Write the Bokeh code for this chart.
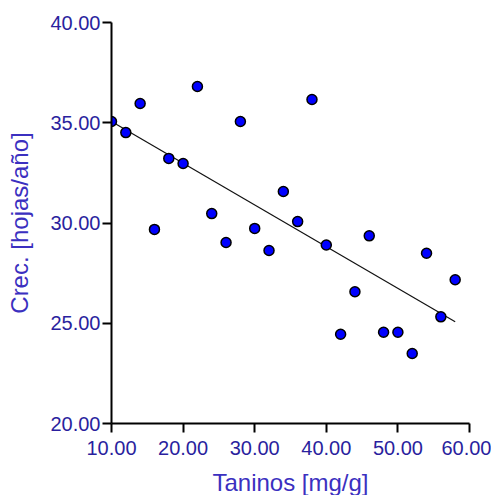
import numpy as np
from bokeh.plotting import figure
from bokeh.models import Range1d, FixedTicker, PrintfTickFormatter
from bokeh.embed import file_html
from bokeh.resources import INLINE

# Data
taninos = [10, 12, 14, 16, 18, 20, 22, 24, 26, 28, 30, 32, 34, 36, 38, 40,
           42, 44, 46, 48, 50, 52, 54, 56, 58]
crec = [35.06, 34.51, 35.96, 29.68, 33.22, 32.97, 36.81, 30.47, 29.03, 35.06,
        29.73, 28.63, 31.57, 30.07, 36.16, 28.90, 24.45, 26.57, 29.36, 24.55,
        24.55, 23.49, 28.49, 25.32, 27.17]
x_ticks = [10, 20, 30, 40, 50, 60]
y_ticks = [20, 25, 30, 35, 40]
x_title = "Taninos [mg/g]"
y_title = "Crec. [hojas/año]"

TICK_COLOR = "#2a1f9e"
TITLE_COLOR = "#3b30c0"
FONT = "Liberation Sans"

p = figure(frame_width=358, frame_height=401, output_backend="svg",
           toolbar_location=None,
           x_range=Range1d(10, 60), y_range=Range1d(20, 40),
           min_border_left=111, min_border_right=22,
           min_border_top=22, min_border_bottom=60)
p.outline_line_color = None
p.xgrid.grid_line_color = None
p.ygrid.grid_line_color = None
p.background_fill_color = "white"
p.border_fill_color = "white"

# regression line (least squares from the data)
slope, intercept = np.polyfit(taninos, crec, 1)
xl = np.array([min(taninos), max(taninos)], dtype=float)
p.line(xl, slope * xl + intercept, line_color="#111111", line_width=1.2)

p.scatter(taninos, crec, size=10, fill_color="#0000ff",
          line_color="black", line_width=1.5)

for ax, ticks in ((p.xaxis[0], x_ticks), (p.yaxis[0], y_ticks)):
    ax.ticker = FixedTicker(ticks=ticks)
    ax.formatter = PrintfTickFormatter(format="%.2f")
    ax.minor_tick_line_color = None
    ax.major_tick_in = 0
    ax.major_tick_out = 9
    ax.major_tick_line_width = 2
    ax.axis_line_width = 2
    ax.axis_line_color = "black"
    ax.major_tick_line_color = "black"
    ax.major_label_text_font = FONT
    ax.major_label_text_font_size = "20px"
    ax.major_label_text_color = TICK_COLOR
    ax.axis_label_text_font = FONT
    ax.axis_label_text_font_size = "24px"
    ax.axis_label_text_font_style = "normal"
    ax.axis_label_text_color = TITLE_COLOR

p.xaxis.axis_label = x_title
p.yaxis.axis_label = y_title
p.xaxis.major_label_standoff = 8
p.yaxis.major_label_standoff = 2
p.xaxis.axis_label_standoff = 11
p.yaxis.axis_label_standoff = 14

open("out.html", "w").write(file_html(p, INLINE))
